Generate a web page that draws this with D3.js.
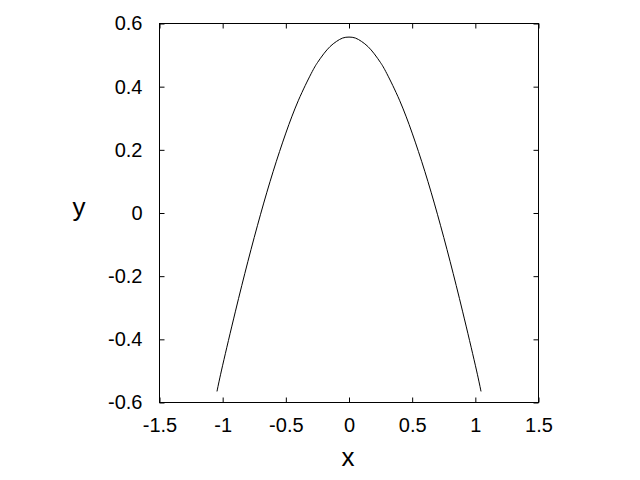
<!DOCTYPE html>
<html>
<head>
<meta charset="utf-8">
<script src="https://cdn.jsdelivr.net/npm/d3@7"></script>
<style>
  body { margin: 0; background: #fff; }
  svg text { font-family: "Liberation Sans", Arial, sans-serif; fill: #000; }
</style>
</head>
<body>
<div id="chart-area"></div>
<script>
const WIDTH = 640
const HEIGHT = 480
const PLOT = { LEFT: 159.5, RIGHT: 538.5, TOP: 23.5, BOTTOM: 402.5 }

// curve points
const xValues = [-1.045, -1.0, -0.9, -0.8, -0.7, -0.6, -0.5, -0.4, -0.3, -0.25, -0.2, -0.15, -0.1, -0.05,
  0, 0.05, 0.1, 0.15, 0.2, 0.25, 0.3, 0.4, 0.5, 0.6, 0.7, 0.8, 0.9, 1.0, 1.045]
const yValues = [-0.565, -0.482, -0.313, -0.153, -0.004, 0.132, 0.253, 0.357, 0.441, 0.476, 0.504, 0.527, 0.543, 0.554,
  0.557, 0.554, 0.543, 0.527, 0.504, 0.476, 0.441, 0.357, 0.253, 0.132, -0.004, -0.153, -0.313, -0.482, -0.565]

const xTicks = [-1.5, -1, -0.5, 0, 0.5, 1, 1.5]
const yTicks = [-0.6, -0.4, -0.2, 0, 0.2, 0.4, 0.6]

const TICK = 5
const FONT = "20px"

// plain hyphen for negatives, like gnuplot
const fmt = d => String(+d.toFixed(2))

const svg = d3.select("#chart-area").append("svg")
  .attr("width", WIDTH)
  .attr("height", HEIGHT)

const x = d3.scaleLinear().domain([-1.5, 1.5]).range([PLOT.LEFT, PLOT.RIGHT])
const y = d3.scaleLinear().domain([-0.6, 0.6]).range([PLOT.BOTTOM, PLOT.TOP])

// gnuplot style: ticks point inward, mirrored on opposite side
const bottomAx = d3.axisBottom(x).tickValues(xTicks).tickSize(-TICK).tickPadding(15).tickFormat(fmt)
const topAx = d3.axisTop(x).tickValues(xTicks).tickSize(-TICK).tickFormat("")
const leftAx = d3.axisLeft(y).tickValues(yTicks).tickSize(-TICK).tickPadding(17).tickFormat(fmt)
const rightAx = d3.axisRight(y).tickValues(yTicks).tickSize(-TICK).tickFormat("")

function styleAxis(g) {
  g.select(".domain").remove()
  g.selectAll("line").attr("stroke", "#000")
  g.selectAll("text").attr("font-size", FONT).attr("font-family", "Liberation Sans, Arial, sans-serif")
}

svg.append("g").attr("transform", `translate(0, ${PLOT.BOTTOM})`).call(bottomAx).call(styleAxis)
svg.append("g").attr("transform", `translate(0, ${PLOT.TOP})`).call(topAx).call(styleAxis)
svg.append("g").attr("transform", `translate(${PLOT.LEFT}, 0)`).call(leftAx).call(styleAxis)
svg.append("g").attr("transform", `translate(${PLOT.RIGHT}, 0)`).call(rightAx).call(styleAxis)

// frame
svg.append("rect")
  .attr("x", PLOT.LEFT)
  .attr("y", PLOT.TOP)
  .attr("width", PLOT.RIGHT - PLOT.LEFT)
  .attr("height", PLOT.BOTTOM - PLOT.TOP)
  .attr("fill", "none")
  .attr("stroke", "#000")
  .attr("stroke-width", 1)

const points = xValues.map((d, i) => [d, yValues[i]])

const line = d3.line()
  .x(d => x(d[0]))
  .y(d => y(d[1]))
  .curve(d3.curveNatural)

svg.append("path")
  .datum(points)
  .attr("d", line)
  .attr("fill", "none")
  .attr("stroke", "#000")
  .attr("stroke-width", 1)

// axis labels
svg.append("text")
  .attr("x", 348)
  .attr("y", 466)
  .attr("text-anchor", "middle")
  .attr("font-size", "26px")
  .text("x")

svg.append("text")
  .attr("x", 79)
  .attr("y", 216)
  .attr("text-anchor", "middle")
  .attr("font-size", "26px")
  .text("y")
</script>
</body>
</html>
